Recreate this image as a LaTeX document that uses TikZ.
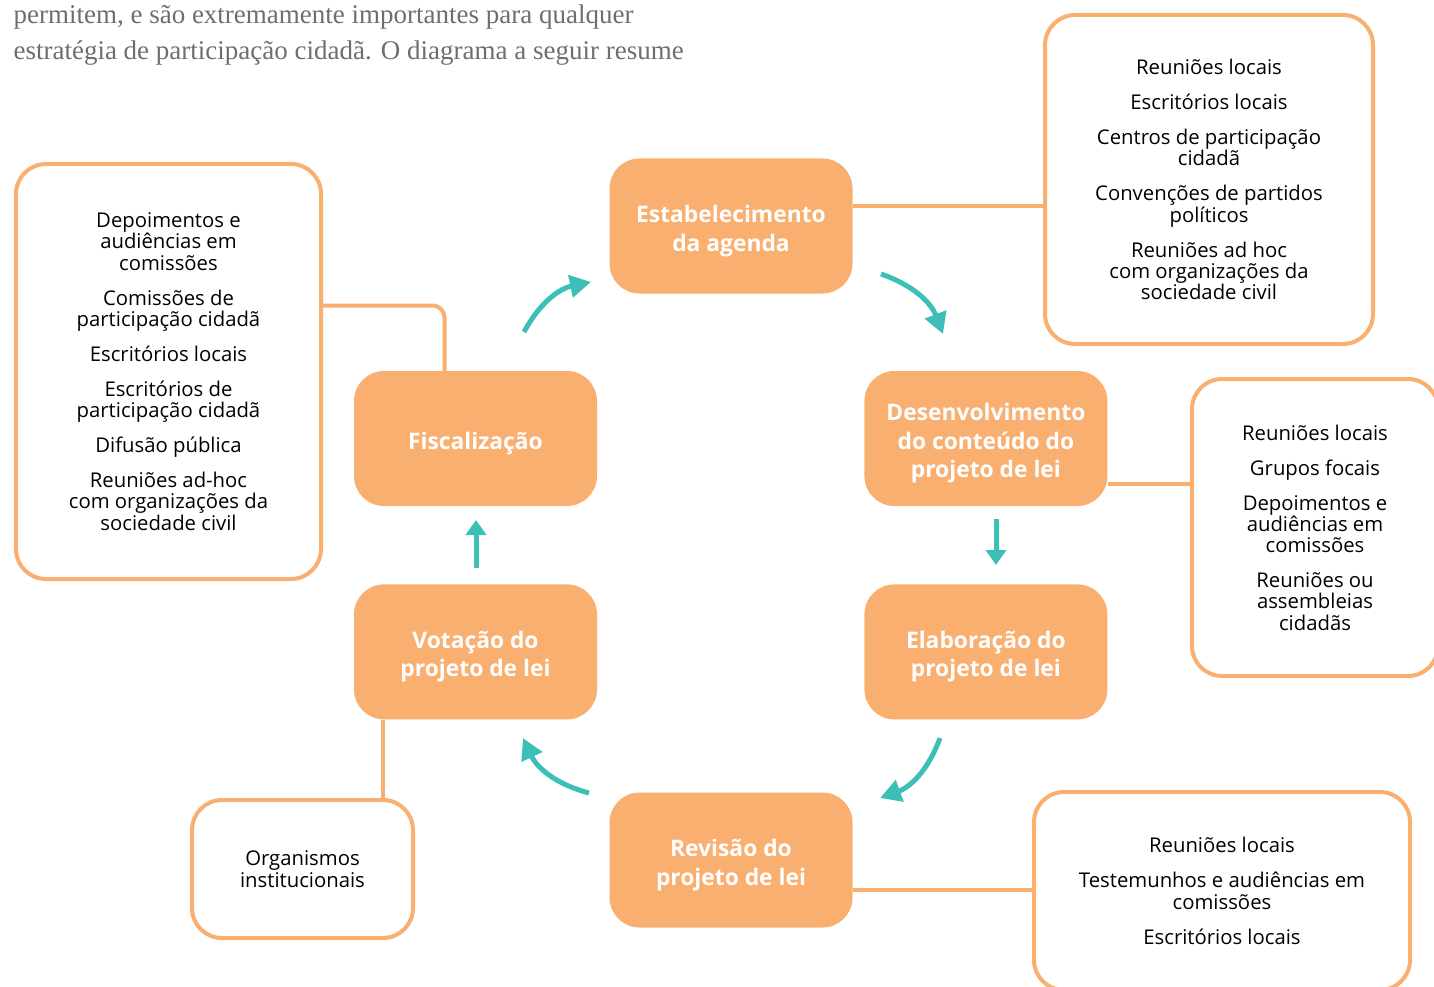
\documentclass[tikz,border=0pt]{standalone}
\usepackage{fontspec}
\setmainfont{Open Sans}
\newfontfamily\textoserif{Liberation Serif}
\usepackage{tikz}
\usetikzlibrary{positioning,arrows.meta,calc,backgrounds}

\definecolor{laranja}{HTML}{F9AF6F}
\definecolor{turquesa}{HTML}{3BBFB7}
\definecolor{cinza}{HTML}{6E6E6E}
\newcommand{\ajustetopo}{\rule{0pt}{27pt}}

\begin{document}
\begin{tikzpicture}[x=1pt, y=-1pt,
  etapa/.style={fill=laranja, rounded corners=30pt, minimum width=243pt, minimum height=135pt, inner sep=0pt, text=white, font=\fontsize{22.8}{28.5}\selectfont\bfseries, align=center},
  canal/.style={draw=laranja, line width=4pt, rounded corners=30pt, fill=white, inner sep=0pt, font=\fontsize{20.3}{21.3}\selectfont, align=center},
  ligacao/.style={draw=laranja, line width=4pt},
  seta/.style={draw=turquesa, line width=5pt, -{Triangle[length=21pt,width=22pt]}},
  setareta/.style={draw=turquesa, line width=5pt, -{Triangle[length=15pt,width=20pt]}},
]
\path[use as bounding box, clip] (0,0) rectangle (1434,987);

% texto de abertura
\node[anchor=base west, align=left, text=cinza, font=\textoserif\fontsize{27}{36}\selectfont] (intro) at (10,60)
  {permitem, e são extremamente importantes para qualquer\\estratégia de participação cidadã. O diagrama a seguir resume};

% etapas do ciclo
\node[etapa] (fiscal) at (475.5,438.5) {\ajustetopo Fiscalização};
\node[etapa, right=267pt of fiscal] (conteudo) {\ajustetopo Desenvolvimento\\do conteúdo do\\projeto de lei};
\node[etapa, below=78pt of fiscal] (votacao) {\ajustetopo Votação do\\projeto de lei};
\node[etapa, below=78pt of conteudo] (elaboracao) {\ajustetopo Elaboração do\\projeto de lei};
\node[etapa] (agenda) at (731,226) {\ajustetopo Estabelecimento\\da agenda};
\node[etapa] (revisao) at (731,860) {\ajustetopo Revisão do\\projeto de lei};

% canais de participação
\node[canal, minimum width=328pt, minimum height=329pt] (canaisAgenda) at (1209,179.5)
  {Reuniões locais\\[13.7pt]Escritórios locais\\[13.7pt]Centros de participação\\cidadã\\[13.7pt]Convenções de partidos\\políticos\\[13.7pt]Reuniões ad hoc\\com organizações da\\sociedade civil};
\node[canal, minimum width=246pt, minimum height=297pt] (canaisConteudo) at (1315,527.5)
  {Reuniões locais\\[13.7pt]Grupos focais\\[13.7pt]Depoimentos e\\audiências em\\comissões\\[13.7pt]Reuniões ou\\assembleias\\cidadãs};
\node[canal, minimum width=376pt, minimum height=198pt] (canaisRevisao) at (1222,891)
  {Reuniões locais\\[13.7pt]Testemunhos e audiências em\\comissões\\[13.7pt]Escritórios locais};
\node[canal, minimum width=305pt, minimum height=415pt] (canaisFiscal) at (168.5,371.5)
  {Depoimentos e\\audiências em\\comissões\\[13.7pt]Comissões de\\participação cidadã\\[13.7pt]Escritórios locais\\[13.7pt]Escritórios de\\participação cidadã\\[13.7pt]Difusão pública\\[13.7pt]Reuniões ad-hoc\\com organizações da\\sociedade civil};
\node[canal, minimum width=221pt, minimum height=138pt] (canaisVotacao) at (302.5,869)
  {Organismos\\institucionais};

% ligacoes entre etapas e canais
\begin{scope}[on background layer]
\draw[ligacao] ([yshift=20pt]agenda.east) coordinate (l1) -- (l1 -| canaisAgenda.west);
\draw[ligacao] ([yshift=-45pt]conteudo.east) coordinate (l2) -- (l2 -| canaisConteudo.west);
\draw[ligacao] ([yshift=-30pt]revisao.east) coordinate (l3) -- (l3 -| canaisRevisao.west);
\draw[ligacao, rounded corners=12pt] ([yshift=66pt]canaisFiscal.east) -| ([xshift=-31pt]fiscal.north);
\draw[ligacao] ([xshift=-93pt]votacao.south) coordinate (l5) -- (l5 |- canaisVotacao.north);
\end{scope}

% setas do ciclo
\coordinate (s1a) at (524,332);  \coordinate (s1b) at (591,282);
\coordinate (s2a) at (881,274);  \coordinate (s2b) at (943,334);
\coordinate (s3a) at (996,519);  \coordinate (s3b) at (996,565);
\coordinate (s4a) at (940,738);  \coordinate (s4b) at (880,798);
\coordinate (s5a) at (589,793);  \coordinate (s5b) at (523,738);
\coordinate (s6a) at (476,568);  \coordinate (s6b) at (476,520);
\draw[seta] (s1a) to[bend left=25] (s1b);
\draw[seta] (s2a) to[bend left=25] (s2b);
\draw[setareta] (s3a) -- (s3b);
\draw[seta] (s4a) to[bend left=25] (s4b);
\draw[seta] (s5a) to[bend left=25] (s5b);
\draw[setareta] (s6a) -- (s6b);
\end{tikzpicture}
\end{document}
